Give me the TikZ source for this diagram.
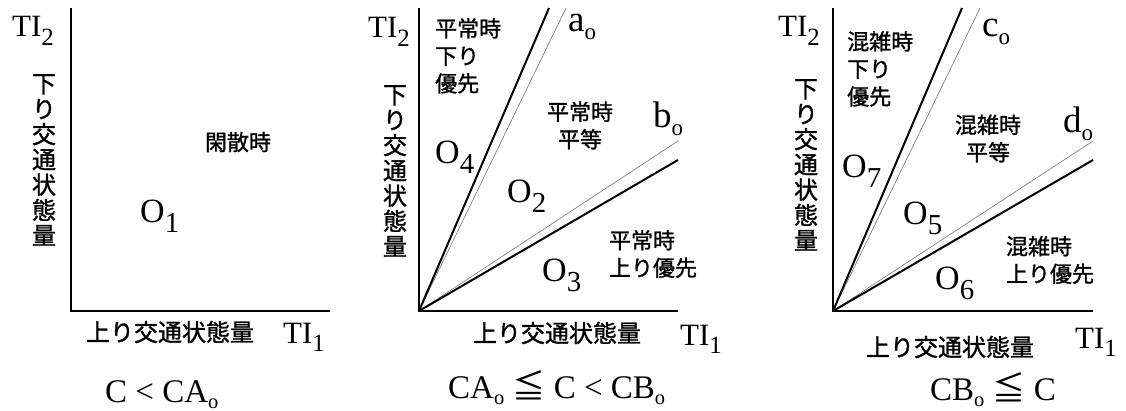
\documentclass[tikz,border=0pt]{standalone}
\usepackage{fontspec}
\usepackage{graphicx}
\setmainfont{Liberation Serif}
\newfontfamily\jp[FakeBold=1.2]{Noto Sans CJK JP}
\newfontfamily\jpr{Noto Sans CJK JP}
\newcommand\sbs[2][0.8]{\raisebox{-0.28em}{\scalebox{#1}{#2}}}
\newcommand\sbo{\raisebox{-0.2em}{\scalebox{0.62}{o}}}
\tikzset{
  axis/.style={line width=1.5pt},
  bound/.style={line width=2pt},
  guide/.style={line width=0.6pt, black!55},
  tl/.style={inner sep=0pt, font=\fontsize{31}{31}\selectfont, anchor=base west},
  ll/.style={inner sep=0pt, font=\fontsize{37}{37}\selectfont, anchor=base west},
  ol/.style={inner sep=0pt, font=\fontsize{34}{34}\selectfont, anchor=base west},
  fl/.style={inner sep=0pt, font=\fontsize{33}{33}\selectfont, anchor=base west},
  jl/.style={inner sep=0pt, font=\jp\fontsize{22}{27.5}\selectfont},
  vl/.style={inner sep=0pt, font=\jp\fontsize{24}{25.3}\selectfont, align=center},
  hl/.style={inner sep=0pt, font=\jp\fontsize{24}{24}\selectfont},
}
\begin{document}
\begin{tikzpicture}[x=1pt,y=-1pt]
\useasboundingbox (0,0) rectangle (1126,411);
% ---------- Panel 1 ----------
\coordinate (o1) at (71,311);
\coordinate (y1) at (71,8);
\coordinate (x1) at (330,311);
\draw[axis] (y1) -- (o1) -- (x1);
\node[tl] (ti2a) at (12,37) {TI\sbs{2}};
\node[tl] (ti1a) at (283,343) {TI\sbs{1}};
\node[vl] (va) at (44,160) {下\\り\\交\\通\\状\\態\\量};
\node[hl] (ha) at (170,332) {上り交通状態量};
\node[jl] (kan) at (238,142) {閑散時};
\node[ol] (O1) at (140,223) {O\sbs[0.85]{1}};
\node[fl] (f1) at (105,402) {C < CA\sbo};
% ---------- Panel 2 ----------
\coordinate (o2) at (419,311);
\coordinate (y2) at (419,8);
\coordinate (x2) at (678,311);
\coordinate (A2) at (549,8);
\coordinate (a2) at (566,8);
\coordinate (B2) at (678,160);
\coordinate (b2) at (678,141);
\draw[guide] (o2) -- (a2);
\draw[guide] (o2) -- (b2);
\draw[bound] (o2) -- (A2);
\draw[bound] (o2) -- (B2);
\draw[axis] (y2) -- (o2) -- (x2);
\node[tl] (ti2b) at (368,38) {TI\sbs{2}};
\node[tl] (ti1b) at (680,345) {TI\sbs{1}};
\node[vl] (vb) at (395,171) {下\\り\\交\\通\\状\\態\\量};
\node[hl] (hb) at (557,333) {上り交通状態量};
\node[ll] (ao) at (568,32) {a\sbo};
\node[ll] (bo) at (653,128) {b\sbo};
\node[jl, align=left, anchor=north west] (h4) at (435,18) {平常時\\下り\\優先};
\node[jl, align=center] (h2) at (580,125.5) {平常時\\平等};
\node[jl, align=left] (h3) at (653,254) {平常時\\上り優先};
\node[ol] (O4) at (435,164) {O\sbs[0.85]{4}};
\node[ol] (O2) at (507,203) {O\sbs[0.85]{2}};
\node[ol] (O3) at (542,282) {O\sbs[0.85]{3}};
\node[fl] (f2) at (448,398) {CA\sbo{} {\jpr ≦} C < CB\sbo};
% ---------- Panel 3 ----------
\coordinate (o3) at (833,311);
\coordinate (y3) at (833,8);
\coordinate (x3) at (1093,311);
\coordinate (C3) at (962,8);
\coordinate (c3) at (980,8);
\coordinate (D3) at (1093,160);
\coordinate (d3) at (1093,141);
\draw[guide] (o3) -- (c3);
\draw[guide] (o3) -- (d3);
\draw[bound] (o3) -- (C3);
\draw[bound] (o3) -- (D3);
\draw[axis] (y3) -- (o3) -- (x3);
\node[tl] (ti2c) at (778,37) {TI\sbs{2}};
\node[tl] (ti1c) at (1075,348) {TI\sbs{1}};
\node[vl] (vc) at (806,165) {下\\り\\交\\通\\状\\態\\量};
\node[hl] (hc) at (950,347) {上り交通状態量};
\node[ll] (co) at (982,37) {c\sbo};
\node[ll] (do) at (1063,133) {d\sbo};
\node[jl, align=left, anchor=north west] (h7) at (847,31) {混雑時\\下り\\優先};
\node[jl, align=center] (h5) at (988,138.5) {混雑時\\平等};
\node[jl, align=left] (h6) at (1050,260) {混雑時\\上り優先};
\node[ol] (O7) at (842,178) {O\sbs[0.85]{7}};
\node[ol] (O5) at (903,225) {O\sbs[0.85]{5}};
\node[ol] (O6) at (935,290) {O\sbs[0.85]{6}};
\node[fl] (f3) at (930,400) {CB\sbo{} {\jpr ≦} C};
\end{tikzpicture}
\end{document}
